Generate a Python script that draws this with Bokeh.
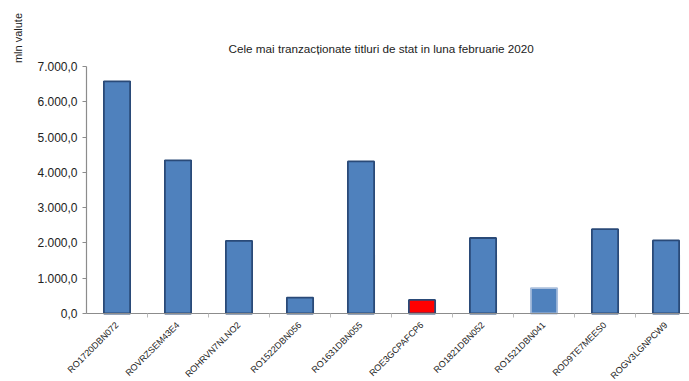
from math import pi

from bokeh.embed import file_html
from bokeh.models import ColumnDataSource, FixedTicker, Label, LinearAxis, Range1d
from bokeh.plotting import figure
from bokeh.resources import INLINE

# Most traded government securities, February 2020 (mln lei)
securities = [
    "RO1720DBN072", "ROVRZSEM43E4", "ROHRVN7NLNO2", "RO1522DBN056", "RO1631DBN055",
    "ROE3GCPAFCP6", "RO1821DBN052", "RO1521DBN041", "ROD9TE7MEES0", "ROGV3LGNPCW9",
]
volumes = [6580, 4340, 2060, 450, 4310, 385, 2140, 720, 2390, 2070]
highlighted = "ROE3GCPAFCP6"

y_ticks = [0, 1000, 2000, 3000, 4000, 5000, 6000, 7000]
y_tick_labels = ["0,0", "1.000,0", "2.000,0", "3.000,0", "4.000,0",
                 "5.000,0", "6.000,0", "7.000,0"]

title_text = "Cele mai tranzacționate titluri de stat in luna februarie 2020"
y_title = "mln  valute"

FONT = "Liberation Sans"
BLUE = "#4F81BD"
EDGE = "#2A4A78"
TEXT = "#222222"
AXIS = "#8C8C8C"

centers = [i + 0.5 for i in range(len(securities))]
fills = ["#FF0000" if s == highlighted else BLUE for s in securities]
edges = ["#A9BEDC" if s == "RO1521DBN041" else EDGE for s in securities]

src = ColumnDataSource(dict(x=centers, top=volumes, fill=fills, edge=edges))

# The frame fills the whole canvas; both axes are pinned at zero and
# bounded, which leaves room around them for the rotated names and titles.
p = figure(
    width=689, height=381,
    x_range=Range1d(-1.41, 9.885), y_range=Range1d(-1927, 8870),
    output_backend="svg", toolbar_location=None,
    x_axis_type=None, y_axis_type=None,
    min_border=0,
)
p.outline_line_color = None
p.xgrid.visible = False
p.ygrid.visible = False
p.background_fill_color = "white"
p.border_fill_color = "white"

p.vbar(x="x", top="top", width=0.43, bottom=0, source=src,
       fill_color="fill", line_color="edge", line_width=1.8)

# value axis
yax = LinearAxis(ticker=FixedTicker(ticks=y_ticks), bounds=(0, 7000), fixed_location=0)
yax.major_label_overrides = dict(zip(y_ticks, y_tick_labels))
yax.axis_line_color = AXIS
yax.axis_line_width = 1.2
yax.major_tick_line_color = AXIS
yax.major_tick_out = 4
yax.major_tick_in = 0
yax.minor_tick_line_color = None
yax.major_label_standoff = 5
yax.major_label_text_font = FONT
yax.major_label_text_font_size = "12px"
yax.major_label_text_color = TEXT
p.add_layout(yax, "left")

# category axis: names at the centres, ticks on the boundaries
xax = LinearAxis(ticker=FixedTicker(ticks=centers, minor_ticks=list(range(1, len(securities)))),
                 bounds=(0, len(securities)), fixed_location=0)
xax.major_label_overrides = dict(zip(centers, securities))
xax.major_label_orientation = pi / 4
xax.axis_line_color = AXIS
xax.axis_line_width = 1.2
xax.major_tick_line_color = None
xax.minor_tick_line_color = "#BBBBBB"
xax.minor_tick_out = 4
xax.minor_tick_in = 0
xax.major_label_standoff = 4
xax.major_label_text_font = FONT
xax.major_label_text_font_size = "9px"
xax.major_label_text_color = TEXT
p.add_layout(xax, "below")

p.add_layout(Label(x=2.328, y=7510, text=title_text, text_align="left",
                   text_baseline="middle", text_font=FONT, text_font_size="11.7px",
                   text_color=TEXT))
p.add_layout(Label(x=-1.131, y=7850, text=y_title, angle=pi / 2, text_align="center",
                   text_baseline="middle", text_font=FONT, text_font_size="11px",
                   text_color=TEXT))

open("out.html", "w").write(file_html(p, INLINE))
